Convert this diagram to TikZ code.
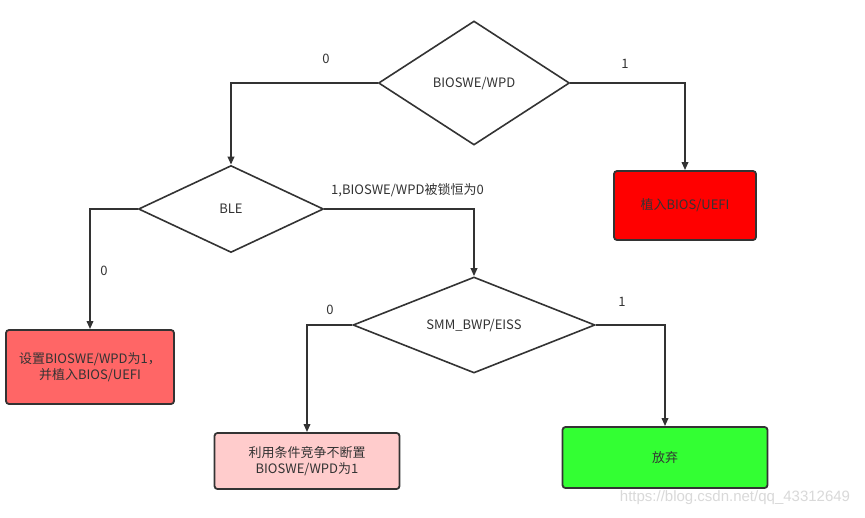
\documentclass[tikz,border=0pt]{standalone}
\usepackage{fontspec}
\setmainfont{Noto Sans CJK SC}
\newfontfamily\wmfont{Liberation Sans}
\usetikzlibrary{shapes.geometric,arrows.meta}
\definecolor{txt}{HTML}{333333}
\definecolor{redA}{HTML}{FF0000}
\definecolor{redB}{HTML}{FF6666}
\definecolor{redC}{HTML}{FFCCCC}
\definecolor{greenA}{HTML}{33FF33}
\tikzset{
  decision/.style={diamond,draw=txt,line width=1.6pt,inner sep=0pt,text=txt,font=\fontsize{13}{15}\selectfont},
  action/.style={rectangle,rounded corners=3pt,draw=txt,line width=1.8pt,inner sep=0pt,text=txt,align=center,font=\fontsize{13}{16}\selectfont},
  flow/.style={draw=txt,line width=1.8pt,-{Triangle[length=8pt,width=6.5pt]}},
  lbl/.style={text=txt,inner sep=0pt,font=\fontsize{13}{15}\selectfont}
}
\begin{document}
\begin{tikzpicture}[x=1pt,y=-1pt]
\useasboundingbox[fill=white] (0,0) rectangle (865,517);
\node[decision,aspect=1.54,minimum width=191pt,minimum height=124pt] (d1) at (474,83) {BIOSWE/WPD};
\node[decision,aspect=2.13,minimum width=185pt,minimum height=87pt] (d2) at (231,209) {BLE};
\node[decision,aspect=2.52,minimum width=242pt,minimum height=96pt] (d3) at (474,325) {SMM\_BWP/EISS};
\node[action,fill=redA,minimum width=142pt,minimum height=69pt] (b1) at (685,205.5) {植入BIOS/UEFI};
\node[action,fill=redB,minimum width=168pt,minimum height=74pt] (b2) at (90,367) {设置BIOSWE/WPD为1，\\并植入BIOS/UEFI};
\node[action,fill=redC,minimum width=185pt,minimum height=56pt] (b3) at (307,461) {利用条件竞争不断置\\BIOSWE/WPD为1};
\node[action,fill=greenA,minimum width=205pt,minimum height=61pt] (b4) at (665,457.5) {放弃};
\draw[flow] (d1.west) -| (d2.north);
\draw[flow] (d1.east) -| (b1.north);
\draw[flow] (d2.west) -| (b2.north);
\draw[flow] (d2.east) -| (d3.north);
\draw[flow] (d3.west) -| (b3.north);
\draw[flow] (d3.east) -| (b4.north);
\node[lbl] (l1) at (326,59) {0};
\node[lbl] (l2) at (625,64) {1};
\node[lbl] (l3) at (104,271) {0};
\node[lbl] (l4) at (407.5,190) {1,BIOSWE/WPD被锁恒为0};
\node[lbl] (l5) at (330,310) {0};
\node[lbl] (l6) at (622,302) {1};
\node[text=black!15,inner sep=0pt,font=\wmfont\fontsize{15}{17}\selectfont] (wm) at (735,498) {https://blog.csdn.net/qq\_43312649};
\end{tikzpicture}
\end{document}
